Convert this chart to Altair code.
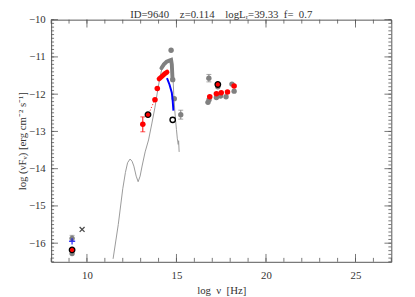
import altair as alt
import pandas as pd

NB = "\u00a0"
# ---------------- data ----------------
title_text = ["ID=9640" + NB * 4 + "z=0.114" + NB * 4 + "logLᵣ=39.33" + NB * 2 + "f=" + NB * 2 + "0.7"]

model_nu = [11.46, 11.75, 12.0, 12.15, 12.27, 12.41, 12.52, 12.62, 12.75, 12.86, 12.97, 13.08,
            13.25, 13.44, 13.62, 13.8, 13.95, 14.07, 14.17, 14.25, 14.4, 14.55, 14.68, 14.75,
            14.8, 14.85, 14.9, 14.95, 15.0, 15.05, 15.1, 15.12, 15.15]
model_f = [-16.42, -15.5, -14.54, -14.1, -13.84, -13.74, -13.8, -13.93, -14.2, -14.35, -14.2, -13.93,
           -13.55, -13.23, -12.8, -12.35, -11.9, -11.57, -11.35, -11.17, -11.15, -11.12, -11.1, -11.2,
           -11.5, -12.0, -12.4, -12.7, -12.95, -13.2, -13.35, -13.25, -13.55]

band_nu = [14.16, 14.3, 14.45, 14.6, 14.7, 14.74, 14.76, 14.78]
band_f = [-11.3, -11.2, -11.13, -11.1, -11.08, -11.2, -11.4, -11.6]

blue_nu = [14.47, 14.61, 14.74, 14.79, 14.83]
blue_f = [-11.57, -11.74, -11.96, -12.18, -12.44]

redline_nu = [14.03, 14.2, 14.35, 14.47]
redline_f = [-11.59, -11.52, -11.45, -11.41]

reddot_nu = [13.53, 13.76]
reddot_f = [-12.44, -12.18]

red_nu = [9.17, 13.12, 13.41, 13.80, 13.93, 16.86, 17.23, 17.5, 17.85, 18.22, 17.31]
red_f = [-16.18, -12.81, -12.55, -12.15, -11.85, -12.07, -11.99, -11.96, -11.94, -11.78, -11.74]
red_outlined = [1, 0, 1, 0, 0, 0, 0, 0, 0, 0, 1]

gray_nu = [9.17, 9.17, 14.70, 14.79, 14.88, 15.24, 16.81, 16.76, 17.23, 17.46, 17.77, 18.1, 18.22, 17.31, 16.82]
gray_f = [-15.87, -16.28, -10.82, -11.61, -12.12, -12.55, -11.57, -12.22, -12.09, -12.05, -12.07, -11.73, -11.92, -11.8, -12.15]

err_nu = [13.12, 9.17, 15.24, 16.81]
err_lo = [-13.01, -15.95, -12.67, -11.67]
err_hi = [-12.61, -15.79, -12.43, -11.47]
err_col = ["red", "gray", "gray", "gray"]

plus_nu = [9.17]
plus_f = [-15.95]
cross_nu = [9.73]
cross_f = [-15.63]
open_nu = [14.79]
open_f = [-12.69]

y_major = [-16, -15, -14, -13, -12, -11, -10]
x_major = [10, 15, 20, 25]

W, H = 347, 247
xs = alt.Scale(domain=[8, 27], nice=False, zero=False)
ys = alt.Scale(domain=[-16.5, -10], nice=False, zero=False)
FONT = "Liberation Serif"
GRAY = "#808080"

XAX = alt.Axis(values=x_major, ticks=False, domain=False, grid=False,
               title="log" + NB * 2 + "ν" + NB * 2 + "[Hz]", labelFont=FONT, titleFont=FONT,
               labelFontSize=11, titleFontSize=11, titleFontWeight="normal",
               labelColor="#333", titleColor="#333", labelPadding=8, titlePadding=4)
YAX = alt.Axis(values=y_major, ticks=False, domain=False, grid=False,
               title="log" + NB + "(νFᵥ)" + NB + "[erg" + NB + "cm⁻²" + NB + "s⁻¹]", labelFont=FONT, titleFont=FONT,
               labelFontSize=11, titleFontSize=11, titleFontWeight="normal",
               labelColor="#333", titleColor="#333", labelPadding=6, titlePadding=1)
X = lambda f="nu": alt.X(f, type="quantitative", scale=xs, axis=XAX)
Y = lambda f="f": alt.Y(f, type="quantitative", scale=ys, axis=YAX)

model = pd.DataFrame({"nu": model_nu, "f": model_f, "i": range(len(model_nu))})
band = pd.DataFrame({"nu": band_nu, "f": band_f, "i": range(len(band_nu))})
blue = pd.DataFrame({"nu": blue_nu, "f": blue_f, "i": range(len(blue_nu))})
redl = pd.DataFrame({"nu": redline_nu, "f": redline_f, "i": range(len(redline_nu))})
redd = pd.DataFrame({"nu": reddot_nu, "f": reddot_f, "i": range(len(reddot_nu))})
red = pd.DataFrame({"nu": red_nu, "f": red_f, "o": red_outlined})
gray = pd.DataFrame({"nu": gray_nu, "f": gray_f})
err = pd.DataFrame({"nu": err_nu, "lo": err_lo, "hi": err_hi, "c": err_col})

layers = []

# tick marks (inside the frame)
ymaj = pd.DataFrame({"f": y_major})
ymin = pd.DataFrame({"f": [round(-16.5 + 0.1 * k, 2) for k in range(66)]})
xmaj = pd.DataFrame({"nu": x_major})
xmin = pd.DataFrame({"nu": list(range(8, 28))})
TC = "#555"
for df, L in [(ymin, 3), (ymaj, 7)]:
    layers.append(alt.Chart(df).mark_rule(color=TC, strokeWidth=0.8).encode(
        y=Y(), x=alt.value(0), x2=alt.value(L)))
    layers.append(alt.Chart(df).mark_rule(color=TC, strokeWidth=0.8).encode(
        y=Y(), x=alt.value(W), x2=alt.value(W - L)))
for df, L in [(xmin, 4), (xmaj, 8)]:
    layers.append(alt.Chart(df).mark_rule(color=TC, strokeWidth=0.8).encode(
        x=X(), y=alt.value(H), y2=alt.value(H - L)))
    layers.append(alt.Chart(df).mark_rule(color=TC, strokeWidth=0.8).encode(
        x=X(), y=alt.value(0), y2=alt.value(L)))

layers.append(alt.Chart(model).mark_line(color="#999999", strokeWidth=1, clip=True).encode(
    x=X(), y=Y(), order="i:Q"))
layers.append(alt.Chart(band).mark_line(color=GRAY, strokeWidth=4, strokeCap="round", clip=True).encode(
    x=X(), y=Y(), order="i:Q"))
layers.append(alt.Chart(redd).mark_line(color="red", strokeWidth=1, strokeDash=[1, 2]).encode(
    x=X(), y=Y(), order="i:Q"))
layers.append(alt.Chart(err).mark_rule(strokeWidth=1).encode(
    x=X(), y=Y("lo"), y2="hi", color=alt.Color("c:N", scale=None)))
for col in ["lo", "hi"]:
    layers.append(alt.Chart(err).mark_tick(orient="horizontal", size=5, thickness=1).encode(
        x=X(), y=Y(col), color=alt.Color("c:N", scale=None)))
layers.append(alt.Chart(gray).mark_circle(size=30, color=GRAY, opacity=1).encode(x=X(), y=Y()))
layers.append(alt.Chart(redl).mark_line(color="red", strokeWidth=5, strokeCap="round").encode(
    x=X(), y=Y(), order="i:Q"))
layers.append(alt.Chart(blue).mark_line(color="blue", strokeWidth=2).encode(
    x=X(), y=Y(), order="i:Q"))
layers.append(alt.Chart(red).transform_filter("datum.o == 0").mark_circle(
    size=32, color="red", opacity=1).encode(x=X(), y=Y()))
layers.append(alt.Chart(red).transform_filter("datum.o == 1").mark_point(
    shape="circle", size=32, filled=True, fill="red", stroke="black", strokeWidth=1.3, opacity=1).encode(x=X(), y=Y()))
layers.append(alt.Chart(pd.DataFrame({"nu": plus_nu, "f": plus_f})).mark_point(
    shape="M-1,0L1,0M0,-1L0,1", size=40, stroke="blue", strokeWidth=1.5, filled=False).encode(x=X(), y=Y()))
layers.append(alt.Chart(pd.DataFrame({"nu": cross_nu, "f": cross_f})).mark_point(
    shape="M-1,-1L1,1M-1,1L1,-1", size=25, stroke="black", strokeWidth=1.3, filled=False).encode(x=X(), y=Y()))
layers.append(alt.Chart(pd.DataFrame({"nu": open_nu, "f": open_f})).mark_point(
    shape="circle", size=30, stroke="black", strokeWidth=1.4, filled=False, opacity=1).encode(x=X(), y=Y()))

# title as a text mark just above the frame
layers.append(alt.Chart(pd.DataFrame({"t": title_text})).mark_text(
    font=FONT, fontSize=11, color="#333", baseline="alphabetic", align="center").encode(
    text="t:N", x=alt.value(W / 2), y=alt.value(-2)))

chart = alt.layer(*layers).properties(
    width=W, height=H,
    autosize=alt.AutoSizeParams(type="none"),
    padding={"left": 44, "top": 9, "right": 16, "bottom": 33},
).configure_view(stroke="#555", strokeWidth=1)

chart.save("out.html", embed_options={"renderer": "svg", "actions": False})
